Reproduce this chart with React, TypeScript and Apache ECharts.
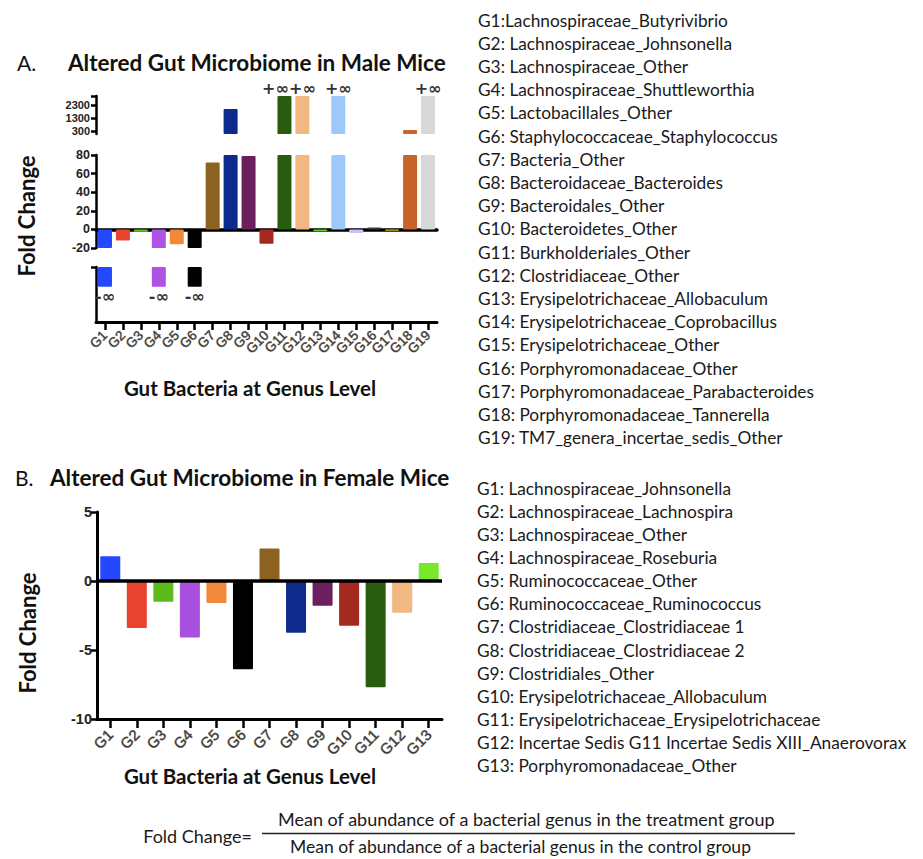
import React, { useEffect, useRef } from 'react';
import * as echarts from 'echarts';

// ---------- Data ----------
const maleCategories = ['G1','G2','G3','G4','G5','G6','G7','G8','G9','G10','G11','G12','G13','G14','G15','G16','G17','G18','G19'];
const maleValues = [-Infinity, -12, -2.5, -Infinity, -16, -Infinity, 72, 2000, 79, -15.5, Infinity, Infinity, -2, Infinity, -4, 2, -1.5, 400, Infinity];
const maleColors = ['#2447ff','#e8432f','#5cc41e','#b052e2','#f2883a','#000000','#8c6220','#0e2a8c','#6b1f5e','#a42a1f','#2a5c10','#f2b881','#5ed21e','#9bc9f9','#c9c2fa','#3a3a3a','#c9c23a','#c8642a','#d8d8d8'];
const maleMidTicks = [-20, 0, 20, 40, 60, 80];
const maleTopTicks = [300, 1300, 2300];
const maleGenera = [
  'G1:Lachnospiraceae_Butyrivibrio',
  'G2: Lachnospiraceae_Johnsonella',
  'G3: Lachnospiraceae_Other',
  'G4: Lachnospiraceae_Shuttleworthia',
  'G5: Lactobacillales_Other',
  'G6: Staphylococcaceae_Staphylococcus',
  'G7: Bacteria_Other',
  'G8: Bacteroidaceae_Bacteroides',
  'G9: Bacteroidales_Other',
  'G10: Bacteroidetes_Other',
  'G11: Burkholderiales_Other',
  'G12: Clostridiaceae_Other',
  'G13: Erysipelotrichaceae_Allobaculum',
  'G14: Erysipelotrichaceae_Coprobacillus',
  'G15: Erysipelotrichaceae_Other',
  'G16: Porphyromonadaceae_Other',
  'G17: Porphyromonadaceae_Parabacteroides',
  'G18: Porphyromonadaceae_Tannerella',
  'G19: TM7_genera_incertae_sedis_Other',
];

const femaleCategories = ['G1','G2','G3','G4','G5','G6','G7','G8','G9','G10','G11','G12','G13'];
const femaleValues = [1.8, -3.4, -1.5, -4.1, -1.6, -6.4, 2.35, -3.75, -1.8, -3.25, -7.7, -2.3, 1.3];
const femaleColors = ['#2447ff','#e8432f','#5cba1d','#a950e0','#f2883a','#000000','#8c6220','#0e2a8c','#6b1f5e','#a42a1f','#2a5c10','#f2b881','#7ae82a'];
const femaleTicks = [-10, -5, 0, 5];
const femaleGenera = [
  'G1: Lachnospiraceae_Johnsonella',
  'G2: Lachnospiraceae_Lachnospira',
  'G3: Lachnospiraceae_Other',
  'G4: Lachnospiraceae_Roseburia',
  'G5: Ruminococcaceae_Other',
  'G6: Ruminococcaceae_Ruminococcus',
  'G7: Clostridiaceae_Clostridiaceae 1',
  'G8: Clostridiaceae_Clostridiaceae 2',
  'G9: Clostridiales_Other',
  'G10: Erysipelotrichaceae_Allobaculum',
  'G11: Erysipelotrichaceae_Erysipelotrichaceae',
  'G12: Incertae Sedis G11 Incertae Sedis XIII_Anaerovorax',
  'G13: Porphyromonadaceae_Other',
];

// axis segment ranges for the broken male axis
const TOP_MIN = 100, TOP_MAX = 3000;
const MID_MIN = -20, MID_MAX = 80;
const NEG_INF_DEPTH = -0.36;

const TXT = 'Lato, "Open Sans", sans-serif';
const NUM = '"Liberation Sans", Arial, sans-serif';
const SYM = '"DejaVu Sans", sans-serif';

export default function App() {
  const ref = useRef<HTMLDivElement>(null);
  useEffect(() => {
    const chart = echarts.init(ref.current!, null, { renderer: 'svg' });

    const axisLineStyle = { color: '#000', width: 2.5 };
    const yTickStyle = { show: true, length: 5, inside: false, lineStyle: { color: '#000', width: 2.5 } };

    const graphics: any[] = [];
    maleGenera.forEach((t, i) => {
      graphics.push({ type: 'text', x: 478, y: 20 + i * 23.2, style: { text: t, font: `17.3px ${TXT}`, fill: '#1a1a1a', textVerticalAlign: 'middle' } });
    });
    femaleGenera.forEach((t, i) => {
      graphics.push({ type: 'text', x: 477, y: 488 + i * 23.15, style: { text: t, font: `17.3px ${TXT}`, fill: '#1a1a1a', textVerticalAlign: 'middle' } });
    });
    graphics.push(
      { type: 'text', x: 17, y: 62, style: { text: 'A.', font: `21px ${TXT}`, fill: '#111', textVerticalAlign: 'middle' } },
      { type: 'text', x: 68, y: 62, style: { text: 'Altered Gut Microbiome in Male Mice', font: `bold 22.5px ${TXT}`, fill: '#111', textVerticalAlign: 'middle' } },
      { type: 'text', x: 15, y: 477, style: { text: 'B.', font: `21px ${TXT}`, fill: '#111', textVerticalAlign: 'middle' } },
      { type: 'text', x: 50, y: 477, style: { text: 'Altered Gut Microbiome in Female Mice', font: `bold 22.5px ${TXT}`, fill: '#111', textVerticalAlign: 'middle' } },
      { type: 'text', x: 26, y: 216, rotation: Math.PI / 2, style: { text: 'Fold Change', font: `bold 22px ${TXT}`, fill: '#111', textAlign: 'center', textVerticalAlign: 'middle' } },
      { type: 'text', x: 27, y: 633, rotation: Math.PI / 2, style: { text: 'Fold Change', font: `bold 22px ${TXT}`, fill: '#111', textAlign: 'center', textVerticalAlign: 'middle' } },
      { type: 'text', x: 250, y: 388, style: { text: 'Gut Bacteria at Genus Level', font: `bold 20.5px ${TXT}`, fill: '#111', textAlign: 'center', textVerticalAlign: 'middle' } },
      { type: 'text', x: 250, y: 776, style: { text: 'Gut Bacteria at Genus Level', font: `bold 20.5px ${TXT}`, fill: '#111', textAlign: 'center', textVerticalAlign: 'middle' } },
      { type: 'text', x: 252, y: 836, style: { text: 'Fold Change=', font: `18px ${TXT}`, fill: '#1a1a1a', textAlign: 'right', textVerticalAlign: 'middle' } },
      { type: 'text', x: 278, y: 819, style: { text: 'Mean of abundance of a bacterial genus in the treatment group', font: `18px ${TXT}`, fill: '#1a1a1a', textAlign: 'left', textVerticalAlign: 'middle' } },
      { type: 'line', shape: { x1: 262, y1: 833.5, x2: 795, y2: 833.5 }, style: { stroke: '#222', lineWidth: 1.5 } },
      { type: 'text', x: 290, y: 846, style: { text: 'Mean of abundance of a bacterial genus in the control group', font: `17.5px ${TXT}`, fill: '#1a1a1a', textAlign: 'left', textVerticalAlign: 'middle' } },
    );

    const colorOf = (arr: string[]) => (p: any) => arr[p.dataIndex];

    const xLabel = (size: number, margin: number) => ({
      show: true, rotate: 45, interval: 0, margin,
      fontFamily: NUM, fontSize: size, color: '#3a3a3a',
      textBorderColor: '#a09682', textBorderWidth: 0.7,
    });

    const plain = (v: number) => String(v);

    const infLabel = (idx: number) => ({
      show: true, position: 'top', distance: 0, formatter: '+∞',
      offset: [idx === 10 ? -9 : 0, 0],
      fontFamily: SYM, fontWeight: 'bold', fontSize: 16, color: '#333',
    });

    const option: any = {
      animation: false,
      backgroundColor: '#ffffff',
      grid: [
        { left: 96, top: 96, width: 341, height: 38 },
        { left: 96, top: 155, width: 341, height: 93 },
        { left: 96, top: 267, width: 341, height: 55 },
        { left: 97, top: 512, width: 345, height: 207 },
      ],
      xAxis: [
        { gridIndex: 0, type: 'category', data: maleCategories, show: false },
        { gridIndex: 1, type: 'category', data: maleCategories,
          axisLine: { show: true, onZero: true, lineStyle: { color: '#000', width: 3.5 } },
          axisTick: { show: false }, axisLabel: { show: false } },
        { gridIndex: 2, type: 'category', data: maleCategories,
          axisLine: { show: true, onZero: false, lineStyle: { color: '#000', width: 3 } },
          axisTick: { show: true, alignWithLabel: true, length: 8, lineStyle: { color: '#000', width: 2.5 } },
          axisLabel: xLabel(13.5, 11) },
        { gridIndex: 3, type: 'category', data: femaleCategories,
          axisLine: { show: true, onZero: false, lineStyle: { color: '#000', width: 3 } },
          axisTick: { show: true, alignWithLabel: true, length: 9, lineStyle: { color: '#000', width: 2.5 } },
          axisLabel: xLabel(15, 13) },
      ],
      yAxis: [
        { gridIndex: 0, type: 'value', min: TOP_MIN, max: TOP_MAX, splitLine: { show: false },
          axisLine: { show: true, lineStyle: axisLineStyle },
          axisTick: { ...yTickStyle, customValues: [...maleTopTicks, TOP_MAX] },
          axisLabel: { show: true, customValues: maleTopTicks, formatter: plain, fontFamily: NUM, fontWeight: 'bold', fontSize: 11, color: '#222', margin: 6 } },
        { gridIndex: 1, type: 'value', min: MID_MIN, max: MID_MAX, interval: 20, splitLine: { show: false },
          axisLine: { show: true, lineStyle: axisLineStyle },
          axisTick: { ...yTickStyle, customValues: maleMidTicks },
          axisLabel: { show: true, customValues: maleMidTicks, formatter: plain, fontFamily: NUM, fontWeight: 'bold', fontSize: 12.5, color: '#222', margin: 6 } },
        { gridIndex: 2, type: 'value', min: -1, max: 0, splitLine: { show: false },
          axisLine: { show: true, lineStyle: axisLineStyle },
          axisTick: { ...yTickStyle, customValues: [0] },
          axisLabel: { show: false } },
        { gridIndex: 3, type: 'value', min: -10, max: 5, interval: 5, splitLine: { show: false },
          axisLine: { show: true, lineStyle: { color: '#000', width: 3 } },
          axisTick: { ...yTickStyle, length: 6, customValues: femaleTicks },
          axisLabel: { show: true, customValues: femaleTicks, formatter: plain, fontFamily: NUM, fontWeight: 'bold', fontSize: 14.5, color: '#222', margin: 5 } },
      ],
      series: [
        { type: 'bar', xAxisIndex: 0, yAxisIndex: 0, barWidth: 14, clip: true,
          itemStyle: { color: colorOf(maleColors), borderRadius: 1 },
          data: maleValues.map((v, i) => v > MID_MAX ? {
            value: Math.min(v, TOP_MAX),
            label: v === Infinity ? infLabel(i) : { show: false },
          } : '-') },
        { type: 'bar', xAxisIndex: 1, yAxisIndex: 1, barWidth: 14, clip: true,
          itemStyle: { color: colorOf(maleColors), borderRadius: 1 },
          data: maleValues.map(v => Math.max(MID_MIN, Math.min(MID_MAX, v))) },
        { type: 'bar', xAxisIndex: 2, yAxisIndex: 2, barWidth: 14, clip: true,
          itemStyle: { color: colorOf(maleColors), borderRadius: 1 },
          label: { show: true, position: 'bottom', distance: 2, formatter: '-∞', fontFamily: SYM, fontWeight: 'bold', fontSize: 16, color: '#333' },
          data: maleValues.map(v => v === -Infinity ? NEG_INF_DEPTH : '-') },
        { type: 'bar', xAxisIndex: 3, yAxisIndex: 3, barWidth: 20,
          itemStyle: { color: colorOf(femaleColors), borderRadius: 1 },
          data: femaleValues,
          markLine: { silent: true, symbol: 'none', label: { show: false },
            lineStyle: { color: '#000', width: 3.5, type: 'solid' }, data: [{ yAxis: 0 }] } },
      ],
      graphic: graphics,
    };

    chart.setOption(option);
    return () => chart.dispose();
  }, []);

  return <div ref={ref} style={{ position: 'absolute', left: 0, top: 0, width: 923, height: 859, background: '#fff' }} />;
}
